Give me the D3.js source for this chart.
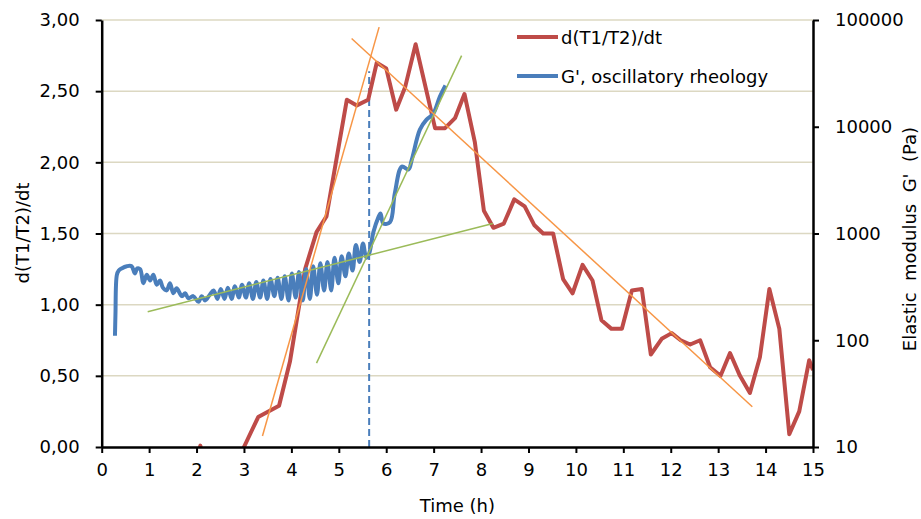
<!DOCTYPE html>
<html>
<head>
<meta charset="utf-8">
<script src="https://cdn.jsdelivr.net/npm/d3@7"></script>
<style>
  body { margin: 0; background: #fff; }
  text { font-family: "DejaVu Sans", sans-serif; fill: #000; }
</style>
</head>
<body>
<svg id="chart" width="921" height="519"></svg>
<script>
// ---------- DATA ---------- //
// d(T1/T2)/dt, left axis
var redTime = [1.87, 2.08, 2.29, 2.50, 2.79, 3.00, 3.30, 3.74, 3.97, 4.29, 4.53, 4.74, 5.17, 5.38, 5.62, 5.80, 6.00,
  6.21, 6.40, 6.62, 7.03, 7.24, 7.45, 7.65, 7.87, 8.06, 8.26, 8.48, 8.70, 8.92, 9.12, 9.31, 9.52, 9.73, 9.93,
  10.14, 10.35, 10.54, 10.75, 10.97, 11.18, 11.39, 11.58, 11.81, 12.02, 12.21, 12.41, 12.62, 12.83, 13.05, 13.25,
  13.46, 13.67, 13.88, 14.08, 14.29, 14.50, 14.71, 14.92, 15.00];
var redValue = [-0.30, 0.01, -0.35, -0.30, -0.35, 0.00, 0.21, 0.29, 0.60, 1.25, 1.51, 1.62, 2.44, 2.40, 2.44, 2.70, 2.66,
  2.37, 2.53, 2.83, 2.24, 2.24, 2.31, 2.48, 2.14, 1.66, 1.54, 1.57, 1.74, 1.69, 1.56, 1.50, 1.50, 1.18, 1.08,
  1.28, 1.17, 0.89, 0.83, 0.83, 1.10, 1.11, 0.65, 0.76, 0.80, 0.75, 0.72, 0.75, 0.56, 0.50, 0.66,
  0.50, 0.38, 0.63, 1.11, 0.83, 0.09, 0.25, 0.61, 0.54];

// G', oscillatory rheology (Pa), right axis
var blueTime = [0.28, 0.29, 0.32, 0.36, 0.42, 0.53, 0.63, 0.70, 0.75, 0.81, 0.88, 0.95, 1.02, 1.09, 1.16, 1.23, 1.29,
  1.37, 1.44, 1.51, 1.58, 1.69, 1.76, 1.83, 1.93, 2.04, 2.11, 2.18, 2.28,
  2.36, 2.44, 2.51, 2.59, 2.66, 2.74, 2.81, 2.89, 2.96, 3.04, 3.11, 3.19, 3.26, 3.34, 3.41, 3.49, 3.56, 3.64,
  3.71, 3.79, 3.86, 3.94, 4.01, 4.09, 4.16, 4.24, 4.31, 4.39, 4.46, 4.54, 4.61, 4.69, 4.76, 4.84, 4.91, 4.99,
  5.06, 5.14, 5.21, 5.29, 5.36, 5.44, 5.51, 5.58, 5.64, 5.73, 5.83, 5.88, 5.94, 6.08, 6.18, 6.33, 6.47, 6.54,
  6.71, 6.85, 6.99, 7.13, 7.25];
var blueValue = [110, 174, 410, 450, 471, 494, 494, 423, 471, 464, 342, 410, 363, 410, 331, 363, 311,
  293, 342, 275, 307, 259, 275, 247, 259, 229, 259, 236, 267,
  293, 244, 302, 244, 311, 244, 321, 251, 331, 251, 342, 244, 352, 251, 363, 244, 375, 259,
  386, 244, 398, 236, 423, 251, 436, 236, 464, 244, 494, 267, 525, 293, 541, 293, 593, 342,
  612, 398, 651, 450, 782, 541, 807, 593, 651, 1031, 1402, 1537, 1240, 1279, 2362, 4233, 3981, 4933,
  9402, 11660, 13183, 19055, 24360];

// fitted lines
var greenLines = [[[0.97, 185], [8.25, 1240]], [[4.53, 61], [7.59, 46400]]];   // right axis (Pa)
var orangeLines = [[[3.39, 0.077], [5.85, 2.95]], [[5.27, 2.87], [13.72, 0.283]]]; // left axis
var gelTime = 5.64, gelTop = 2.64;

var xTicks = d3.range(0, 16);
var yLeftTicks = [0, 0.5, 1, 1.5, 2, 2.5, 3];
var yRightTicks = [10, 100, 1000, 10000, 100000];

// ---------- CHART ---------- //
var svg = d3.select("#chart");
var pLeft = 101.7, pRight = 813, pTop = 20, pBottom = 447;

var x = d3.scaleLinear().domain([0, 15]).range([pLeft, pRight]);
var yL = d3.scaleLinear().domain([0, 3]).range([pBottom, pTop]);
var yR = d3.scaleLog().domain([10, 100000]).range([pBottom, pTop]);

svg.append("clipPath").attr("id", "plot")
  .append("rect").attr("x", pLeft).attr("y", pTop - 2).attr("width", pRight - pLeft).attr("height", pBottom - pTop + 2);

// gridlines
svg.append("g").selectAll("line")
  .data(yLeftTicks.slice(1))
  .enter().append("line")
  .attr("x1", pLeft).attr("x2", pRight)
  .attr("y1", d => yL(d)).attr("y2", d => yL(d))
  .attr("stroke", "#dcd8c2").attr("stroke-width", 1.5);

var plot = svg.append("g").attr("clip-path", "url(#plot)");

// dashed gel point
plot.append("line")
  .attr("x1", x(gelTime)).attr("x2", x(gelTime))
  .attr("y1", yL(0)).attr("y2", yL(gelTop))
  .attr("stroke", "#4a7ebb").attr("stroke-width", 2).attr("stroke-dasharray", "7,4");

// red series
var redData = redTime.map((t, i) => [t, redValue[i]]);
plot.append("path")
  .datum(redData)
  .attr("fill", "none").attr("stroke", "#be4b48").attr("stroke-width", 4)
  .attr("stroke-linejoin", "round")
  .attr("d", d3.line().x(d => x(d[0])).y(d => yL(d[1])));

// blue series (smooth, it's a dense measurement)
var blueData = blueTime.map((t, i) => [t, blueValue[i]]);
plot.append("path")
  .datum(blueData)
  .attr("fill", "none").attr("stroke", "#4a7ebb").attr("stroke-width", 4)
  .attr("stroke-linejoin", "round")
  .attr("d", d3.line().curve(d3.curveCatmullRom).x(d => x(d[0])).y(d => yR(d[1])));

// trend lines
plot.selectAll(".green").data(greenLines).enter().append("line")
  .attr("class", "green")
  .attr("x1", d => x(d[0][0])).attr("y1", d => yR(d[0][1]))
  .attr("x2", d => x(d[1][0])).attr("y2", d => yR(d[1][1]))
  .attr("stroke", "#9bbb59").attr("stroke-width", 1.5);

plot.selectAll(".orange").data(orangeLines).enter().append("line")
  .attr("class", "orange")
  .attr("x1", d => x(d[0][0])).attr("y1", d => yL(d[0][1]))
  .attr("x2", d => x(d[1][0])).attr("y2", d => yL(d[1][1]))
  .attr("stroke", "#f79646").attr("stroke-width", 1.5);

// axes
var fmt = d => d3.format(".2f")(d).replace(".", ",");
var gl = svg.append("g").attr("transform", "translate(" + pLeft + ",0)")
  .call(d3.axisLeft(yL).tickValues(yLeftTicks).tickFormat(fmt).tickSizeInner(6).tickSizeOuter(0).tickPadding(16));
var gr = svg.append("g").attr("transform", "translate(" + pRight + ",0)")
  .call(d3.axisRight(yR).tickValues(yRightTicks).tickFormat(d3.format("d")).tickSizeInner(6).tickSizeOuter(0).tickPadding(16));
var gx = svg.append("g").attr("transform", "translate(0," + pBottom + ")")
  .call(d3.axisBottom(x).tickValues(xTicks).tickFormat(d3.format("d")).tickSizeInner(6).tickSizeOuter(0).tickPadding(10));

[gl, gr, gx].forEach(function (g) {
  g.select(".domain").attr("stroke", "#000").attr("stroke-width", 2.5);
  g.selectAll(".tick line").attr("stroke", "#000").attr("stroke-width", 2);
  g.selectAll(".tick text").attr("font-size", 18).attr("font-family", "DejaVu Sans").attr("fill", "#000");
});

// axis titles
svg.append("text")
  .attr("transform", "translate(29,233) rotate(-90)")
  .attr("text-anchor", "middle").attr("font-size", 18)
  .text("d(T1/T2)/dt");

svg.append("text")
  .attr("transform", "translate(916,239) rotate(-90)")
  .attr("text-anchor", "middle").attr("font-size", 18)
  .style("white-space", "pre")
  .text("Elastic  modulus  G'  (Pa)");

svg.append("text")
  .attr("x", x(7.5)).attr("y", 512)
  .attr("text-anchor", "middle").attr("font-size", 18)
  .text("Time (h)");

// legend
var legend = [["d(T1/T2)/dt", "#be4b48", 37], ["G', oscillatory rheology", "#4a7ebb", 76]];
legend.forEach(function (l) {
  svg.append("line").attr("x1", 517).attr("x2", 558).attr("y1", l[2]).attr("y2", l[2])
    .attr("stroke", l[1]).attr("stroke-width", 4);
  svg.append("text").attr("x", 561).attr("y", l[2] + 6.5).attr("font-size", 18).text(l[0]);
});
</script>
</body>
</html>
